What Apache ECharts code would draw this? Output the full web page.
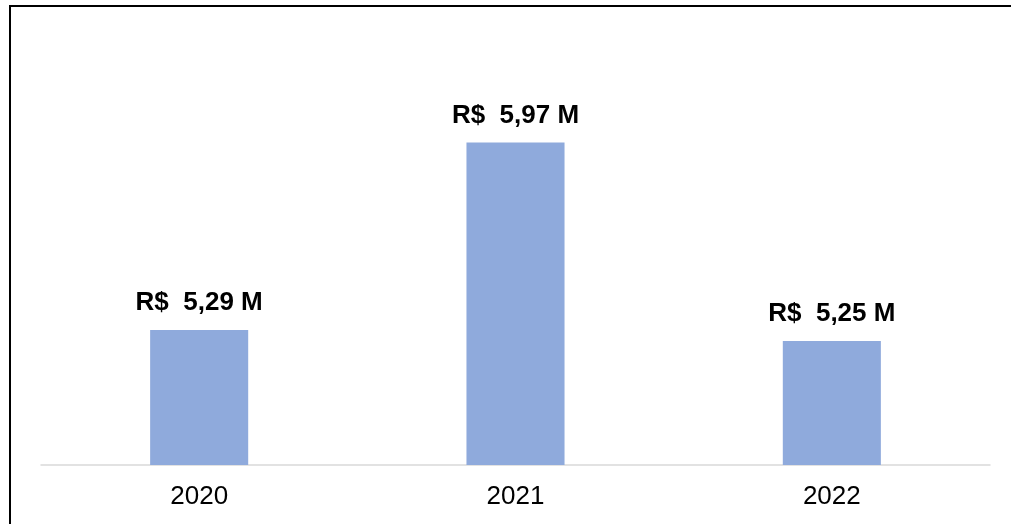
<!DOCTYPE html>
<html>
<head>
<meta charset="utf-8">
<script src="https://cdn.jsdelivr.net/npm/echarts@6/dist/echarts.min.js"></script>
<style>
html,body{margin:0;padding:0;background:#fff;}
#c{width:1011px;height:524px;}
</style>
</head>
<body>
<div id="c"></div>
<script>
const categories = ['2020', '2021', '2022'];
const values = [5.29, 5.97, 5.25];

function fmt(v) {
  return 'R$  ' + v.toFixed(2).replace('.', ',') + ' M';
}

const chart = echarts.init(document.getElementById('c'));
chart.setOption({
  animation: false,
  backgroundColor: '#ffffff',
  graphic: [{
    type: 'polyline',
    shape: { points: [[10, 524], [10, 6], [1011, 6]] },
    style: { fill: null, stroke: '#000', lineWidth: 2 },
    silent: true
  }],
  grid: { left: 41, right: 21, top: 24, bottom: 59 },
  xAxis: {
    type: 'category',
    data: categories,
    axisLine: { show: true, lineStyle: { color: '#d9d9d9', width: 1.5 } },
    axisTick: { show: false },
    axisLabel: {
      color: '#000', fontFamily: 'Liberation Sans, Arial, sans-serif',
      fontSize: 26, margin: 19
    }
  },
  yAxis: {
    type: 'value', min: 4.8, max: 6.4, show: false,
    splitLine: { show: false }
  },
  series: [{
    type: 'bar',
    data: values,
    barWidth: '31%',
    itemStyle: { color: '#8FAADC' },
    label: {
      show: true, position: 'top', distance: 14,
      color: '#000', fontWeight: 'bold',
      fontFamily: 'Liberation Sans, Arial, sans-serif', fontSize: 26,
      formatter: p => fmt(p.value)
    }
  }]
});
</script>
</body>
</html>
